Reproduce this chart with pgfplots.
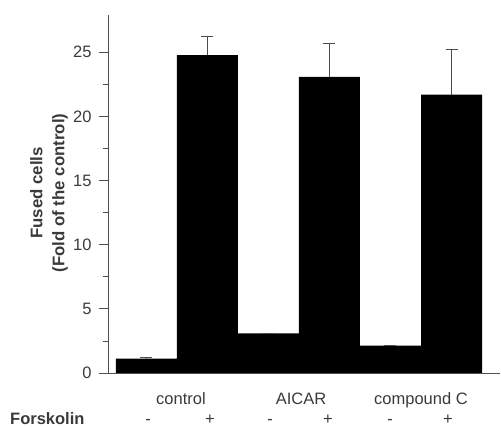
\documentclass[border=0pt]{standalone}
\usepackage{pgfplots}
\pgfplotsset{compat=1.18}
\usepackage{fontspec}
\setmainfont{Liberation Sans}
\definecolor{axgray}{HTML}{505050}
\definecolor{txtgray}{HTML}{3A3A3A}
\begin{document}
\begin{tikzpicture}
\begin{axis}[
  at={(0,0)}, anchor=south west,
  scale only axis, width=392pt, height=358pt,
  xmin=-0.631, xmax=5.795, ymin=0, ymax=27.9,
  axis x line*=bottom, axis y line*=left,
  axis line style={-, axgray, line width=0.8pt},
  xtick=\empty,
  ytick={0,5,10,15,20,25},
  minor y tick num=1,
  tick align=outside,
  major tick length=9pt, minor tick length=4.5pt,
  every tick/.style={axgray, line width=0.8pt},
  /pgf/number format/assume math mode=true,
  yticklabel style={font=\fontsize{16.5}{19}\selectfont, text=txtgray, xshift=-4pt},
  clip=false,
  ybar, bar width=1,
]
\addplot[fill=black, draw=none,
  error bars/.cd, y dir=plus, y explicit,
  error bar style={gray!60!black, line width=1.1pt},
  error mark options={rotate=90, mark size=6pt, gray!60!black, line width=1.1pt}]
  coordinates {
  (0,1.12) +- (0,0.12)
  (1,24.77) +- (0,1.42)
  (2,3.09) +- (0,0)
  (3,23.08) +- (0,2.60)
  (4,2.13) +- (0,0)
  (5,21.70) +- (0,3.50)
  };
\end{axis}
\begin{scope}[every node/.style={font=\fontsize{16.5}{19}\selectfont, text=txtgray, inner sep=0pt}]
\node[anchor=base] at (73pt,-32pt) {control};
\node[anchor=base] at (193pt,-32pt) {AICAR};
\node[anchor=base] at (313pt,-32pt) {compound C};
\node[anchor=base west, font=\fontsize{16.5}{19}\selectfont\bfseries] at (-98pt,-52pt) {Forskolin};
\node[anchor=base] at (40pt,-52pt) {-};
\node[anchor=base] at (102pt,-52pt) {+};
\node[anchor=base] at (162pt,-52pt) {-};
\node[anchor=base] at (220pt,-52pt) {+};
\node[anchor=base] at (282pt,-52pt) {-};
\node[anchor=base] at (340pt,-52pt) {+};
\node[rotate=90, align=center, font=\fontsize{16.8}{22}\selectfont\bfseries] at (-59pt,180pt) {Fused cells\\(Fold of the control)};
\end{scope}
\path (-108pt,-54pt) rectangle (393pt,373pt);
\end{tikzpicture}
\end{document}
